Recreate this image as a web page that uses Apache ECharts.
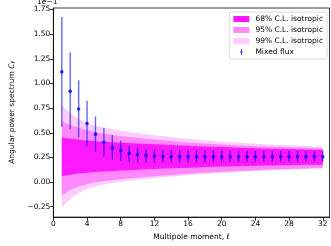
<!DOCTYPE html>
<html><head><meta charset="utf-8">
<script src="https://cdn.jsdelivr.net/npm/echarts@6/dist/echarts.min.js"></script>
<style>html,body{margin:0;padding:0;background:#fff}#c{width:331px;height:246px}</style>
</head><body><div id="c"></div>
<script>
const ell = [1,2,3,4,5,6,7,8,9,10,11,12,13,14,15,16,17,18,19,20,21,22,23,24,25,26,27,28,29,30,31,32];
const xTicks = [0,4,8,12,16,20,24,28,32];
const yTicks = [-0.25,0,0.25,0.5,0.75,1.0,1.25,1.5,1.75];
// values in units of 1e-1
const flux   = [1.117,0.92,0.741,0.594,0.486,0.404,0.349,0.319,0.293,0.28,0.27,0.263,0.26,0.258,0.257,0.256,0.256,0.256,0.256,0.256,0.257,0.257,0.257,0.257,0.257,0.257,0.257,0.257,0.257,0.257,0.257,0.257];
const fluxLo = [0.561,0.535,0.453,0.364,0.306,0.256,0.231,0.214,0.201,0.195,0.194,0.194,0.195,0.196,0.197,0.198,0.199,0.199,0.2,0.2,0.201,0.201,0.202,0.202,0.203,0.203,0.204,0.204,0.205,0.205,0.206,0.206];
const fluxHi = [1.673,1.313,1.032,0.823,0.666,0.551,0.476,0.42,0.365,0.349,0.339,0.333,0.33,0.327,0.325,0.323,0.322,0.321,0.32,0.319,0.318,0.318,0.317,0.317,0.316,0.316,0.315,0.315,0.315,0.314,0.314,0.314];
const c68Hi = [0.453,0.44,0.43,0.422,0.415,0.409,0.404,0.4,0.396,0.392,0.388,0.384,0.38,0.376,0.372,0.368,0.364,0.361,0.358,0.355,0.352,0.349,0.346,0.343,0.341,0.339,0.337,0.335,0.333,0.331,0.329,0.327];
const c68Lo = [0.06,0.075,0.086,0.095,0.102,0.108,0.113,0.117,0.121,0.125,0.129,0.133,0.137,0.14,0.143,0.146,0.149,0.152,0.155,0.157,0.159,0.161,0.163,0.165,0.167,0.169,0.171,0.173,0.174,0.175,0.176,0.177];
const c95Hi = [0.617,0.58,0.55,0.525,0.505,0.49,0.478,0.468,0.458,0.449,0.44,0.432,0.424,0.416,0.409,0.402,0.396,0.39,0.385,0.38,0.376,0.372,0.368,0.364,0.361,0.358,0.355,0.352,0.35,0.348,0.346,0.344];
const c95Lo = [-0.136,-0.08,-0.045,-0.02,-0.002,0.012,0.022,0.03,0.038,0.045,0.052,0.059,0.066,0.072,0.078,0.084,0.089,0.094,0.099,0.104,0.108,0.112,0.116,0.12,0.124,0.127,0.13,0.133,0.136,0.139,0.142,0.145];
const c99Hi = [0.78,0.70,0.64,0.60,0.57,0.55,0.535,0.52,0.508,0.497,0.486,0.476,0.466,0.457,0.448,0.44,0.432,0.424,0.417,0.41,0.404,0.398,0.393,0.388,0.383,0.379,0.375,0.371,0.368,0.365,0.362,0.359];
const c99Lo = [-0.26,-0.17,-0.11,-0.07,-0.045,-0.025,-0.01,0.002,0.013,0.023,0.032,0.04,0.048,0.056,0.063,0.07,0.076,0.082,0.088,0.093,0.098,0.103,0.107,0.111,0.115,0.119,0.123,0.126,0.129,0.132,0.135,0.138];

const names = ['68% C.L. isotropic','95% C.L. isotropic','99% C.L. isotropic','Mixed flux'];
const colors = {c68:'#ff19ff', c95:'#ff88ff', c99:'#ffccff'};
const FONT = 'DejaVu Sans';
const FS = 7.5;

function band(name, lo, hi, color) {
  return {
    type:'custom', name:name, silent:true, itemStyle:{color:color},
    data: ell.map((l,i)=>[l, lo[i], hi[i]]),
    renderItem:(params, api)=>{
      if (params.dataIndex !== 0) return null;
      const top = ell.map((l,i)=>api.coord([l, hi[i]]));
      const bot = ell.map((l,i)=>api.coord([l, lo[i]])).reverse();
      return {type:'polygon', shape:{points: top.concat(bot)}, style:{fill:color, stroke:null}};
    }
  };
}

const fmtY = v => v.toFixed(2).replace('-', '\u2212');

const option = {
  animation:false,
  textStyle:{fontFamily:FONT},
  grid:{left:37, right:1.5, top:8, bottom:22, show:true, borderColor:'#000', borderWidth:0.8, containLabel:false},
  xAxis:{type:'value', min:0, max:32.8, minInterval:4, maxInterval:4,
    axisLine:{onZero:false, lineStyle:{color:'#000', width:0.8}}, axisTick:{length:3.5, lineStyle:{color:'#000', width:0.8}},
    axisLabel:{color:'#000', fontSize:FS, fontFamily:FONT, margin:3, showMaxLabel:false,
      formatter: v => xTicks.includes(v) ? String(v) : ''},
    splitLine:{show:false},
    name:'Multipole moment, {i|ℓ}', nameLocation:'middle', nameGap:13,
    nameTextStyle:{color:'#000', fontSize:FS, fontFamily:FONT, rich:{i:{fontStyle:'italic', fontSize:FS, fontFamily:FONT}}}
  },
  yAxis:{type:'value', min:-0.355, max:1.765, minInterval:0.25, maxInterval:0.25,
    axisLine:{show:true, onZero:false, lineStyle:{color:'#000', width:0.8}}, axisTick:{show:true, length:3.5, lineStyle:{color:'#000', width:0.8}},
    axisLabel:{color:'#000', fontSize:FS, fontFamily:FONT, margin:3, showMinLabel:false, showMaxLabel:false,
      formatter: v => yTicks.some(t=>Math.abs(t-v)<1e-6) ? fmtY(v) : ''},
    splitLine:{show:false},
    name:'Angular power spectrum {i|C}{s|ℓ}', nameLocation:'middle', nameGap:27,
    nameTextStyle:{color:'#000', fontSize:FS, fontFamily:FONT,
      rich:{i:{fontStyle:'italic', fontSize:FS, fontFamily:FONT}, s:{fontStyle:'italic', fontSize:5.5, fontFamily:FONT, verticalAlign:'bottom', padding:[3,0,0,0]}}}
  },
  graphic:[{type:'text', left:37, top:-1.5, z:100, style:{text:'1e\u22121', fontSize:FS, fontFamily:FONT, fill:'#000'}}],
  legend:{
    orient:'vertical', right:4, top:12, itemWidth:16, itemHeight:6, itemGap:3,
    padding:[3,4,3,4], backgroundColor:'rgba(255,255,255,0.8)', borderColor:'#d0d0d0', borderWidth:0.8, borderRadius:2,
    textStyle:{fontSize:FS, fontFamily:FONT, color:'#000', padding:[0,0,0,1]},
    data:[
      {name:names[0], icon:'rect'},
      {name:names[1], icon:'rect'},
      {name:names[2], icon:'rect'},
      {name:names[3], icon:'path://M0 0M16 10M7.3 0L8.7 0L8.7 10L7.3 10ZM6.5 3.5L9.5 3.5L9.5 6.5L6.5 6.5Z', itemStyle:{color:'#0000ff'}}
    ]
  },
  series:[
    band(names[2], c99Lo, c99Hi, colors.c99),
    band(names[1], c95Lo, c95Hi, colors.c95),
    band(names[0], c68Lo, c68Hi, colors.c68),
    {type:'custom', data: ell.map((l,i)=>[l, fluxLo[i], fluxHi[i]]), silent:true,
     renderItem:(params, api)=>{
       const a = api.coord([api.value(0), api.value(1)]);
       const b = api.coord([api.value(0), api.value(2)]);
       return {type:'line', shape:{x1:a[0], y1:a[1], x2:b[0], y2:b[1]}, style:{stroke:'rgba(0,0,255,0.6)', lineWidth:1.4}};
     }},
    {type:'scatter', name:names[3], data: ell.map((l,i)=>[l, flux[i]]), symbol:'circle', symbolSize:3.6,
     itemStyle:{color:'#0000ff'}, silent:true}
  ]
};
const chart = echarts.init(document.getElementById('c'), null, {renderer:'canvas'});
chart.setOption(option);
</script></body></html>
